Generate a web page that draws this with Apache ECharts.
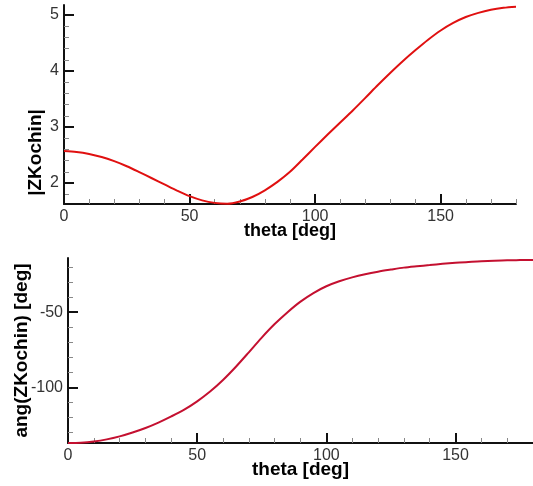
<!DOCTYPE html>
<html>
<head>
<meta charset="utf-8">
<script src="https://cdn.jsdelivr.net/npm/echarts@6/dist/echarts.min.js"></script>
<style>
html,body{margin:0;padding:0;background:#fff;}
#chart{width:533px;height:486px;}
</style>
</head>
<body>
<div id="chart"></div>
<script>
// ---- data ----
var thetaTop = [0, 5, 10, 15, 20, 25, 30, 35, 40, 45, 50, 55, 60, 65, 70, 75, 80, 85, 90, 95, 100, 105, 110, 115, 120, 125, 130, 135, 140, 145, 150, 155, 160, 165, 170, 175, 180];
var absZKochin = [2.57, 2.555, 2.52, 2.465, 2.39, 2.30, 2.195, 2.085, 1.975, 1.865, 1.765, 1.69, 1.645, 1.63, 1.67, 1.75, 1.87, 2.02, 2.20, 2.42, 2.645, 2.865, 3.08, 3.295, 3.52, 3.75, 3.97, 4.18, 4.375, 4.56, 4.725, 4.86, 4.965, 5.04, 5.095, 5.13, 5.15];

var thetaBottom = [0, 5, 10, 15, 20, 25, 30, 35, 40, 45, 50, 55, 60, 65, 70, 75, 80, 85, 90, 95, 100, 105, 110, 115, 120, 125, 130, 135, 140, 145, 150, 155, 160, 165, 170, 175, 180];
var angZKochin = [-137, -136.8, -136, -134.6, -132.6, -130, -127, -123.4, -119.3, -114.8, -109.3, -102.8, -95.1, -86.3, -76.7, -66.9, -57.9, -50.0, -43.0, -37.3, -32.8, -29.5, -26.9, -24.8, -23.1, -21.7, -20.4, -19.5, -18.7, -17.9, -17.2, -16.6, -16.2, -15.8, -15.5, -15.4, -15.3];

var xMajorTicks = [0, 50, 100, 150];
var xMinorTicks = [10, 20, 30, 40, 60, 70, 80, 90, 110, 120, 130, 140, 160, 170, 180];
var yTopMajorTicks = [2, 3, 4, 5];
var yTopMinorTicks = [1.8, 2.2, 2.4, 2.6, 2.8, 3.2, 3.4, 3.6, 3.8, 4.2, 4.4, 4.6, 4.8];
var yBottomMajorTicks = [-100, -50];
var yBottomMinorTicks = [-130, -120, -110, -90, -80, -70, -60, -40, -30, -20];

var xName = 'theta [deg]';
var yTopName = '|ZKochin|';
var yBottomName = 'ang(ZKochin) [deg]';

// ---- chart ----
var FONT = '"Liberation Sans", Arial, sans-serif';
var labelStyle = {color: '#333', fontSize: 16, fontFamily: FONT};
var nameStyle = {color: '#000', fontSize: 18, fontWeight: 'bold', fontFamily: FONT};

function majorAxis(grid, min, max, ticks, extra) {
  var a = {
    type: 'value', gridIndex: grid, min: min, max: max,
    nameMoveOverlap: false,
    axisLine: {show: true, onZero: false, lineStyle: {color: '#111', width: 2}},
    axisTick: {show: true, inside: true, length: 10, customValues: ticks, lineStyle: {color: '#111', width: 2}},
    axisLabel: {show: true, customValues: ticks, margin: 5},
    splitLine: {show: false},
    minorTick: {show: false}
  };
  Object.assign(a.axisLabel, labelStyle);
  for (var k in extra) a[k] = extra[k];
  return a;
}
function minorAxis(grid, min, max, ticks, pos) {
  return {
    type: 'value', gridIndex: grid, min: min, max: max, position: pos,
    axisLine: {show: false, onZero: false},
    axisTick: {show: true, inside: true, length: 5, customValues: ticks, lineStyle: {color: '#888', width: 1}},
    axisLabel: {show: false},
    splitLine: {show: false}
  };
}

var chart = echarts.init(document.getElementById('chart'), null, {renderer: 'canvas'});
chart.setOption({
  animation: false,
  backgroundColor: '#fff',
  grid: [
    {left: 64, right: 17, top: 5, height: 199, outerBoundsMode: 'none', containLabel: false},
    {left: 68, right: 0, top: 258, height: 185, outerBoundsMode: 'none', containLabel: false}
  ],
  xAxis: [
    majorAxis(0, 0, 180, xMajorTicks, {position: 'bottom', name: xName, nameLocation: 'middle', nameGap: 18, nameTextStyle: nameStyle}),
    minorAxis(0, 0, 180, xMinorTicks, 'bottom'),
    majorAxis(1, 0, 180, xMajorTicks, {position: 'bottom', name: xName, nameLocation: 'middle', nameGap: 17, nameTextStyle: Object.assign({}, nameStyle, {fontSize: 19})}),
    minorAxis(1, 0, 180, xMinorTicks, 'bottom')
  ],
  yAxis: [
    majorAxis(0, 1.625, 5.18, yTopMajorTicks, {position: 'left', name: yTopName, nameLocation: 'middle', nameGap: 19, nameTextStyle: Object.assign({}, nameStyle, {fontSize: 19, padding: [0, 96, 0, 0]})}),
    minorAxis(0, 1.625, 5.18, yTopMinorTicks, 'left'),
    majorAxis(1, -137, -14, yBottomMajorTicks, {position: 'left', name: yBottomName, nameLocation: 'middle', nameGap: 37, nameTextStyle: Object.assign({}, nameStyle, {fontSize: 19})}),
    minorAxis(1, -137, -14, yBottomMinorTicks, 'left')
  ],
  series: [
    {
      type: 'line', xAxisIndex: 0, yAxisIndex: 0, smooth: 0.3, symbol: 'none',
      lineStyle: {color: '#e01010', width: 2},
      data: thetaTop.map(function (t, i) { return [t, absZKochin[i]]; })
    },
    {
      type: 'line', xAxisIndex: 2, yAxisIndex: 2, smooth: 0.3, symbol: 'none',
      lineStyle: {color: '#c41030', width: 2},
      data: thetaBottom.map(function (t, i) { return [t, angZKochin[i]]; })
    }
  ]
});
</script>
</body>
</html>
